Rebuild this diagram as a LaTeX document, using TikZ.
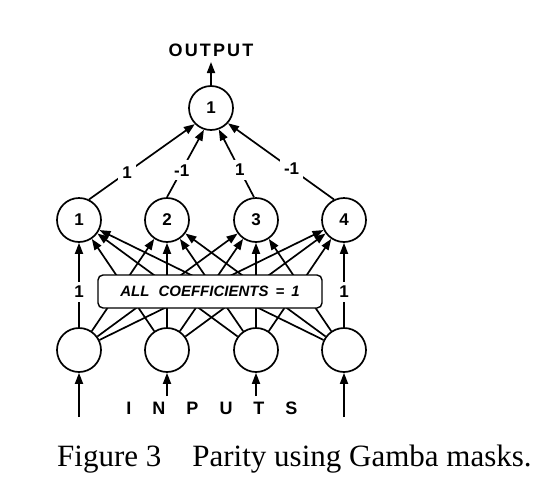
\documentclass[tikz,border=0pt]{standalone}
\usepackage{fontspec}
\setmainfont{Liberation Serif}
\setsansfont{Liberation Sans}
\newfontfamily\widesans[LetterSpace=12]{Liberation Sans}
\usetikzlibrary{positioning,arrows.meta}

\begin{document}
\begin{tikzpicture}[x=1pt, y=-1pt,
  unit/.style={draw, circle, line width=1.7pt, minimum size=44pt, inner sep=0pt, font=\sffamily\bfseries\fontsize{17}{17}\selectfont},
  arr/.style={-{Triangle[length=11pt, width=8pt]}, line width=1.7pt},
  wt/.style={fill=white, inner sep=4pt, font=\sffamily\bfseries\fontsize{17}{17}\selectfont}]
  \useasboundingbox (0,0) rectangle (554,485);
  % units
  \node[unit] (out) at (211,108) {1};
  \node[unit] (h1) at (79,220) {1};
  \node[unit] (h2) at (167,220) {2};
  \node[unit] (h3) at (256,220) {3};
  \node[unit] (h4) at (344,220) {4};
  \node[unit] (in1) at (79,350) {};
  \node[unit] (in2) at (167,350) {};
  \node[unit] (in3) at (256,350) {};
  \node[unit] (in4) at (344,350) {};
  % output side
  \coordinate (top) at (211,62);
  \node[font=\widesans\bfseries\fontsize{18}{18}\selectfont] (outlbl) at (211,50) {OUTPUT};
  \draw[arr] (out) -- (top);
  \draw[arr] (h1.64) -- node[wt, pos=0.36] {1} (out.225);
  \draw[arr] (h2.90) -- node[wt, pos=0.4] {-1} (out.252);
  \draw[arr] (h3.95) -- node[wt, pos=0.4] {1} (out.290);
  \draw[arr] (h4.116) -- node[wt, pos=0.4] {-1} (out.318);
  % input to hidden
  \foreach \i in {1,...,4}
    \foreach \j in {1,...,4}
      \draw[arr] (in\i) -- (h\j);
  \path (in1) -- node[wt, pos=0.42] {1} (h1);
  \path (in4) -- node[wt, pos=0.42] {1} (h4);
  \node[draw, fill=white, rounded corners=5pt, line width=1.4pt, minimum width=224pt, minimum height=33pt,
    font=\sffamily\bfseries\itshape\fontsize{15}{15}\selectfont] (note) at (210,291.5)
    {ALL\hspace{9pt}COEFFICIENTS\hspace{7pt}=\hspace{7pt}1\hspace{16pt}};
  % inputs
  \coordinate (s1) at (79,417);
  \coordinate (s2) at (167,396);
  \coordinate (s3) at (256,396);
  \coordinate (s4) at (344,417);
  \draw[arr] (s1) -- (in1);
  \draw[arr] (s2) -- (in2);
  \draw[arr] (s3) -- (in3);
  \draw[arr] (s4) -- (in4);
  \node[font=\sffamily\bfseries\fontsize{18}{18}\selectfont] (inputs) at (212,408)
    {I\hspace{21pt}N\hspace{21pt}P\hspace{21pt}U\hspace{21pt}T\hspace{21pt}S};
  % caption
  \node[anchor=base west, inner sep=0pt, font=\fontsize{31}{31}\selectfont] (caption) at (57,466)
    {Figure 3\hspace{1em}Parity using Gamba masks.};
\end{tikzpicture}
\end{document}
